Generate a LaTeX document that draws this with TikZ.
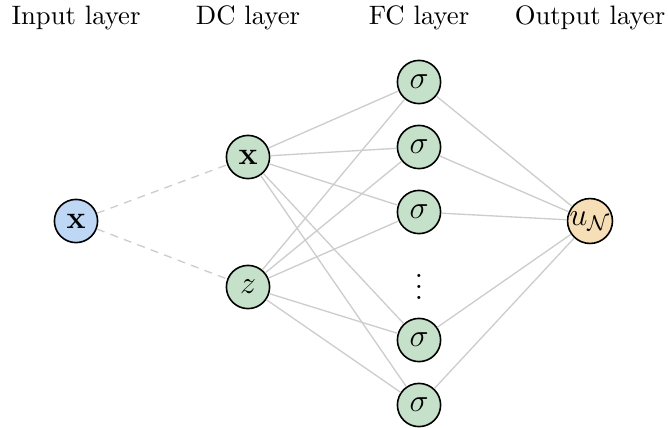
\documentclass[tikz,border=0pt]{standalone}
\usepackage{amsmath,amssymb}
\usepackage{xcolor}
\usepackage{tikz}
\definecolor{inblue}{RGB}{189,215,245}
\definecolor{hidgreen}{RGB}{198,225,202}
\definecolor{outtan}{RGB}{246,223,183}
\definecolor{edgegray}{RGB}{205,205,205}
\tikzset{
  neuron/.style   = {circle,draw=black,line width=0.6pt,minimum size=16.2pt,inner sep=0pt,font=\large},
  inneuron/.style = {neuron,fill=inblue},
  hidneuron/.style= {neuron,fill=hidgreen},
  outneuron/.style= {neuron,fill=outtan},
  wire/.style     = {edgegray,line width=0.5pt},
  dashwire/.style = {wire,dash pattern=on 3pt off 2.4pt},
  title/.style    = {font=\normalsize}
}
\begin{document}
\begin{tikzpicture}[x=0.375pt,y=-0.375pt]
  \useasboundingbox (0,0) rectangle (668,427);
  % titles
  \node[title] (tin)  at (76,18)  {Input layer};
  \node[title] (tdc)  at (248,18) {DC layer};
  \node[title] (tfc)  at (419,18) {FC layer};
  \node[title] (tout) at (590,18) {Output layer};
  % input and DC layers
  \node[inneuron]  (in) at (76,221)  {$\mathbf{x}$};
  \node[hidneuron] (dx) at (248,157) {$\mathbf{x}$};
  \node[hidneuron] (dz) at (248,287) {$z$};
  % FC layer
  \foreach \n/\y in {1/82,2/147,3/212,4/340,5/405}
    \node[hidneuron] (s\n) at (419,\y) {$\sigma$};
  \node[font=\large,inner sep=0pt] (dots) at (419,279) {$\vdots$};
  % output
  \node[outneuron] (out) at (590,221) {$u_{\mathcal{N}}$};
  % connections
  \draw[dashwire] (in) -- (dx);
  \draw[dashwire] (in) -- (dz);
  \foreach \d in {dx,dz}
    \foreach \n in {1,...,5}
      \draw[wire] (\d) -- (s\n);
  \foreach \n in {1,...,5}
    \draw[wire] (s\n) -- (out);
\end{tikzpicture}
\end{document}
